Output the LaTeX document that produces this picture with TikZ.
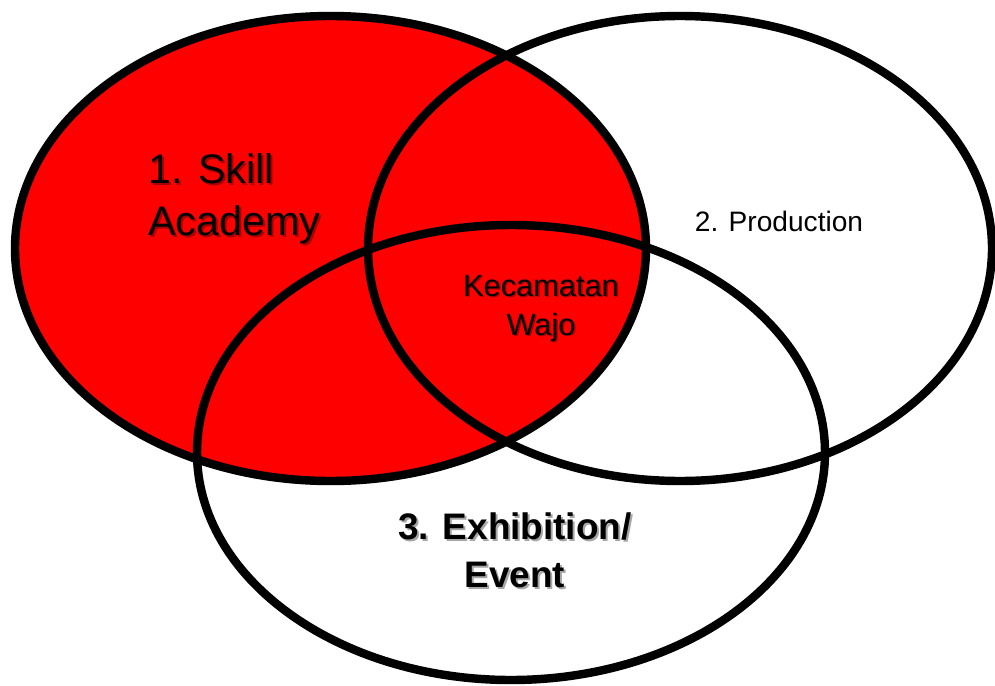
\documentclass[tikz,border=0pt]{standalone}
\usepackage{fontspec}
\setmainfont{Liberation Sans}
\usepackage{tikz}
\usetikzlibrary{positioning}

\begin{document}
\begin{tikzpicture}
  [
    Set/.style={draw=black, line width=4.8pt},
    Skill/.style={font=\fontsize{23.5}{29.5}\selectfont, align=left, anchor=base west, inner sep=0pt},
    Core/.style={font=\fontsize{17.5}{22}\selectfont, align=center, anchor=base, inner sep=0pt},
    Prod/.style={font=\fontsize{16}{20}\selectfont, anchor=base, inner sep=0pt},
    Event/.style={font=\fontsize{21}{27}\selectfont\bfseries, align=center, anchor=base, inner sep=0pt},
    Shadow/.style={text=black, opacity=0.35}
  ]
  \useasboundingbox (0,0) rectangle (19.9,13.7);
  % Sets
  \fill[red] (6.61,8.73) ellipse [x radius=6.31, y radius=4.65];
  \draw[Set] (6.61,8.73) ellipse [x radius=6.31, y radius=4.65];
  \draw[Set] (13.6,8.73) ellipse [x radius=6.24, y radius=4.65];
  \draw[Set] (10.22,4.65) ellipse [x radius=6.28, y radius=4.55];
  % Shadows
  \node[Skill, Shadow] (skill-sh) at (3.0,8.96) {1. Skill\\Academy};
  \node[Core, Shadow] (core-sh) at (10.85,6.97) {Kecamatan\\Wajo};
  \node[Event, Shadow] (event-sh) at (10.34,1.92) {3. Exhibition/\\Event};
  % Labels
  \node[Skill] (skill) at (2.96,9.0) {1. Skill\\Academy};
  \node[Core] (core) at (10.82,7.0) {Kecamatan\\Wajo};
  \node[Prod] (prod) at (15.58,9.08) {2. Production};
  \node[Event] (event) at (10.3,1.96) {3. Exhibition/\\Event};
\end{tikzpicture}
\end{document}
